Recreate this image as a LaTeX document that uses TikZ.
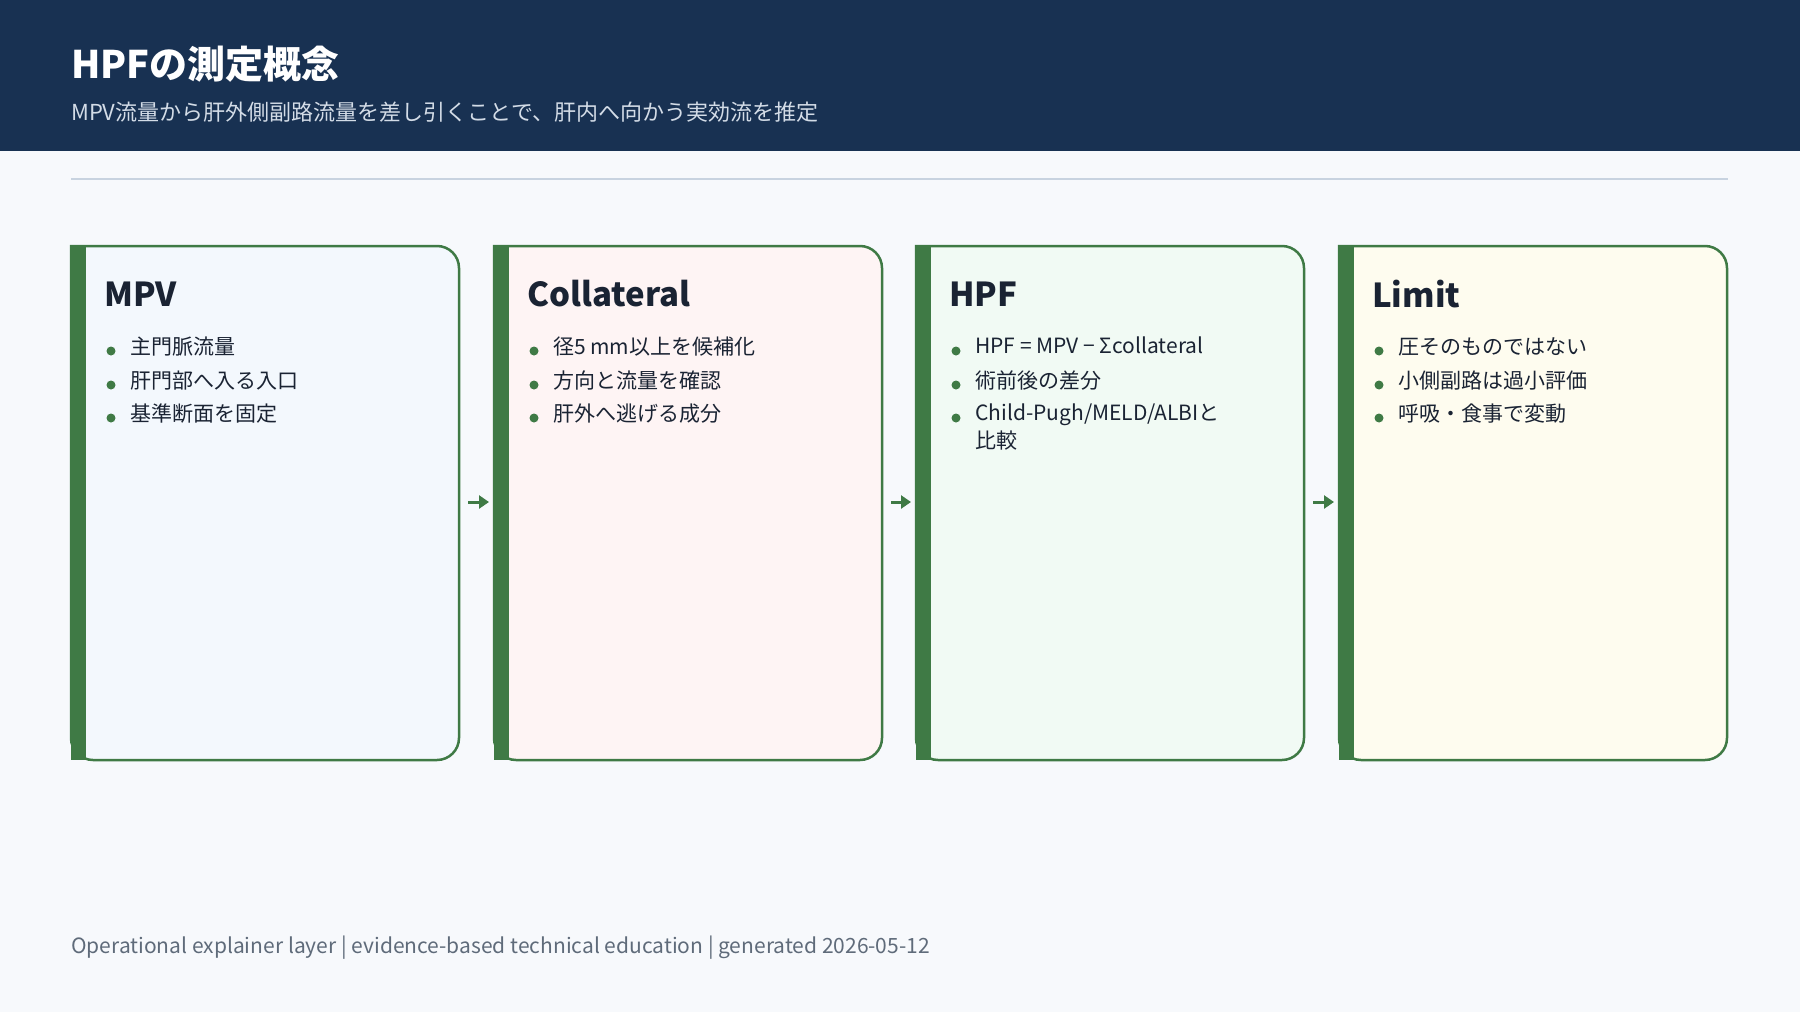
\documentclass[tikz,border=0pt]{standalone}
\usepackage{fontspec}
\setmainfont{Noto Sans CJK JP}
\usetikzlibrary{arrows.meta}
\definecolor{navy}{HTML}{183152}
\definecolor{bgc}{HTML}{F7F9FC}
\definecolor{grn}{HTML}{3F7A45}
\definecolor{txt}{HTML}{1A2333}
\definecolor{sub}{HTML}{D3DCE7}
\definecolor{foot}{HTML}{5F6B7A}
\definecolor{rule}{HTML}{C8D3E0}
\definecolor{fa}{HTML}{F3F8FD}
\definecolor{fb}{HTML}{FEF4F4}
\definecolor{fc}{HTML}{F1FAF4}
\definecolor{fd}{HTML}{FEFCEF}
\tikzset{
 cardtitle/.style={anchor=west,font=\fontsize{33}{36}\selectfont\bfseries,text=txt,inner sep=0},
 bul/.style={anchor=north west,font=\fontsize{21}{28}\selectfont,text=txt,inner sep=0,align=left},
 dot/.style={circle,fill=grn,inner sep=0,minimum size=9pt},
 conn/.style={grn,line width=3pt,-{Triangle[length=10pt,width=13pt]}}
}
\newcommand{\card}[5]{%
 \fill[#2,draw=grn,line width=2.5pt,rounded corners=22pt] (#1,246) -- (#1+388,246) -- (#1+388,760) -- (#1,760) [sharp corners]-- cycle;
 \fill[grn] (#1,246) rectangle (#1+15,760);
 \node[cardtitle] (t#3) at (#1+33,294) {#4};
 \coordinate (c#3) at (#1,502);
 \coordinate (e#3) at (#1+388,502);
 #5
}
\newcommand{\bl}[4]{\node[dot] (d#1) at (#2+40,#3) {}; \node[bul] (b#1) at (#2+59,#3-14) {#4};}
\begin{document}
\begin{tikzpicture}[x=1pt,y=-1pt]
\useasboundingbox (0,0) rectangle (1800,1012);
\fill[bgc] (0,0) rectangle (1800,1012);
\fill[navy] (0,0) rectangle (1800,151);
\node[anchor=west,inner sep=0,text=white,font=\fontsize{38}{40}\selectfont\bfseries] (title) at (71,64) {HPFの測定概念};
\node[anchor=west,inner sep=0,text=sub,font=\fontsize{22}{26}\selectfont] (subt) at (71,112) {MPV流量から肝外側副路流量を差し引くことで、肝内へ向かう実効流を推定};
\draw[rule,line width=1.5pt] (71,179) -- (1728,179);
\card{71}{fa}{1}{MPV}{\bl{11}{71}{351}{主門脈流量}\bl{12}{71}{385}{肝門部へ入る入口}\bl{13}{71}{418}{基準断面を固定}}
\card{494}{fb}{2}{Collateral}{\bl{21}{494}{351}{径5 mm以上を候補化}\bl{22}{494}{385}{方向と流量を確認}\bl{23}{494}{418}{肝外へ逃げる成分}}
\card{916}{fc}{3}{HPF}{\bl{31}{916}{351}{HPF = MPV − Σcollateral}\bl{32}{916}{385}{術前後の差分}\bl{33}{916}{418}{Child-Pugh/MELD/ALBIと\\比較}}
\card{1339}{fd}{4}{Limit}{\bl{41}{1339}{351}{圧そのものではない}\bl{42}{1339}{385}{小側副路は過小評価}\bl{43}{1339}{418}{呼吸・食事で変動}}
\draw[conn] ([xshift=9pt]e1) -- ([xshift=-5pt]c2);
\draw[conn] ([xshift=9pt]e2) -- ([xshift=-5pt]c3);
\draw[conn] ([xshift=9pt]e3) -- ([xshift=-5pt]c4);
\node[anchor=west,inner sep=0,text=foot,font=\fontsize{21}{24}\selectfont] (footer) at (71,948) {Operational explainer layer | evidence-based technical education | generated 2026-05-12};
\end{tikzpicture}
\end{document}
